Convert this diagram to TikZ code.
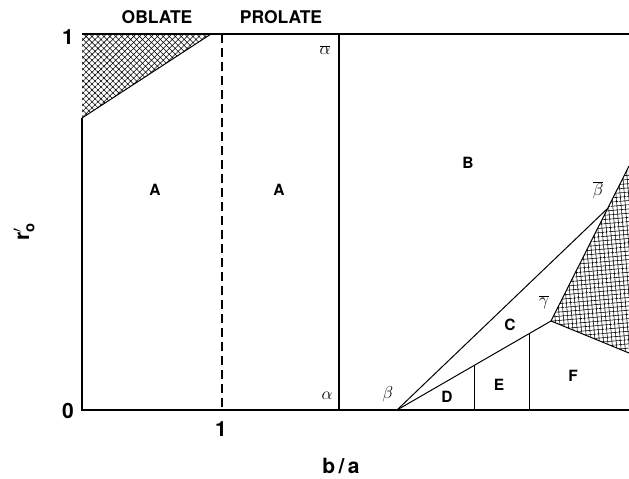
\documentclass[tikz,border=0pt]{standalone}
\usepackage{fontspec}
\setmainfont{TeX Gyre Heros}
\usetikzlibrary{patterns.meta}
\begin{document}
\begin{tikzpicture}[x=1pt,y=-1pt,line width=1.2pt,
  reg/.style={font=\bfseries\fontsize{15.5}{15.5}\selectfont},
  head/.style={font=\bfseries\fontsize{17.5}{17.5}\selectfont},
  num/.style={font=\bfseries\fontsize{21}{21}\selectfont},
  gr/.style={font=\fontsize{19}{19}\selectfont},
  hatchA/.style={pattern={Hatch[angle=45,distance=4.2pt,line width=0.55pt]}},
  hatchB/.style={pattern={Hatch[angle=5,distance=4.2pt,line width=0.55pt]}}]
\useasboundingbox (0,0) rectangle (629,479);
% key points
\coordinate (O) at (82,410);
\coordinate (TL) at (82,34);
\coordinate (TR) at (629,34);
\coordinate (BR) at (629,410);
\coordinate (H1a) at (211,34);
\coordinate (H1b) at (82,118);
\coordinate (D1) at (222,34);
\coordinate (D0) at (222,410);
\coordinate (A1) at (339,34);
\coordinate (A0) at (339,410);
\coordinate (Be) at (397,410);
\coordinate (Bb) at (607,209);
\coordinate (Gb) at (551,321);
\coordinate (HT) at (629,166);
\coordinate (HB) at (629,353);
\coordinate (E0) at (474,410);
\coordinate (E1) at (474,365.5);
\coordinate (F0) at (529,410);
\coordinate (F1) at (529,333.7);
% hatched regions
\fill[hatchA] (TL) -- (H1a) -- (H1b) -- cycle;
\fill[hatchB] (Gb) -- (HT) -- (HB) -- cycle;
\draw[line width=1pt] (H1a) -- (H1b);
\draw[line width=1pt] (HT) -- (Gb) -- (HB);
% frame
\draw (H1b) -- (O) -- (BR);
\draw (TL) -- (TR);
\draw[dashed,dash pattern=on 9pt off 5pt] (D1) -- (D0);
\draw (A1) -- (A0);
\draw[line width=1pt] (Be) -- (Bb);
\draw[line width=1pt] (Be) -- (Gb);
\draw[line width=1pt] (E0) -- (E1);
\draw[line width=1pt] (F0) -- (F1);
% headings and axes
\node[head] (obl) at (157,17.5) {OBLATE};
\node[head] (pro) at (281,17.5) {PROLATE};
\node[num] (y1) at (68,37) {1};
\node[num] (y0) at (68,411) {0};
\node[num] (x1) at (221,429) {1};
\node[num] (xl) at (341,466) {b\kern3.5pt/\kern3.5pt a};
\node[num,rotate=90] (yl) at (24,232) {r$'_{\mathbf{o}}$};
% regions
\node[reg] (rA1) at (155,190) {A};
\node[reg] (rA2) at (279,190) {A};
\node[reg] (rB) at (468,163) {B};
\node[reg] (rC) at (510,325) {C};
\node[reg] (rD) at (447,397) {D};
\node[reg] (rE) at (499,385) {E};
\node[reg] (rF) at (573,376) {F};
% greek labels
\node[gr] (la1) at (325,50) {$\overline{\alpha}$};
\node[gr] (la0) at (327,396) {$\alpha$};
\node[gr] (lb0) at (388,394) {$\beta$};
\node[gr] (lb1) at (598,190) {$\overline{\beta}$};
\node[gr] (lg1) at (544,302) {$\overline{\gamma}$};
\end{tikzpicture}
\end{document}
